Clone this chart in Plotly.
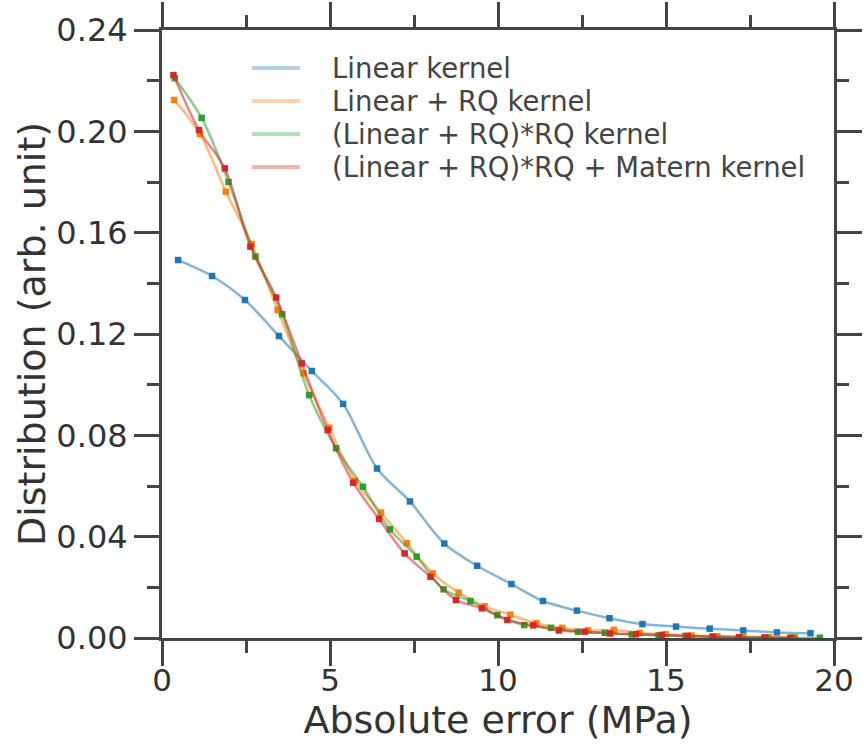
import plotly.graph_objects as go

# Histogram bin centres (MPa) and normalised counts for each kernel
x_linear = [0.48, 1.49, 2.47, 3.48, 4.46, 5.39, 6.40, 7.38, 8.40, 9.38,
            10.40, 11.34, 12.35, 13.32, 14.30, 15.30, 16.30, 17.30, 18.30, 19.30]
y_linear = [0.1492, 0.1429, 0.1334, 0.1192, 0.1054, 0.0924, 0.0669, 0.0539, 0.0373, 0.0285,
            0.0213, 0.0146, 0.0108, 0.0078, 0.0055, 0.0045, 0.0037, 0.0030, 0.0022, 0.0019]

x_lin_rq = [0.36, 1.13, 1.90, 2.67, 3.44, 4.21, 4.98, 5.75, 6.52, 7.29,
            8.06, 8.83, 9.60, 10.37, 11.14, 11.91, 12.68, 13.45, 14.22, 14.99,
            15.76, 16.53, 17.30, 18.07, 18.84]
y_lin_rq = [0.2124, 0.1990, 0.1762, 0.1555, 0.1295, 0.1045, 0.0830, 0.0620, 0.0495, 0.0374,
            0.0255, 0.0179, 0.0125, 0.0092, 0.0058, 0.0040, 0.0030, 0.0032, 0.0020, 0.0015,
            0.0010, 0.0007, 0.0005, 0.0003, 0.0002]

x_lin_rq_rq = [0.38, 1.18, 1.98, 2.78, 3.58, 4.38, 5.18, 5.98, 6.78, 7.58,
               8.38, 9.18, 9.98, 10.78, 11.58, 12.38, 13.18, 13.98, 14.78, 15.58,
               16.38, 17.18, 17.98, 18.78, 19.58]
y_lin_rq_rq = [0.2210, 0.2053, 0.1800, 0.1506, 0.1278, 0.0959, 0.0749, 0.0597, 0.0429, 0.0321,
               0.0192, 0.0146, 0.0090, 0.0051, 0.0040, 0.0025, 0.0020, 0.0014, 0.0010, 0.0008,
               0.0005, 0.0003, 0.0002, 0.0001, 0.0001]

x_matern = [0.34, 1.10, 1.87, 2.63, 3.40, 4.16, 4.93, 5.69, 6.46, 7.22,
            7.99, 8.75, 9.52, 10.28, 11.05, 11.81, 12.58, 13.34, 14.11, 14.87,
            15.64, 16.40, 17.17, 17.93, 18.70]
y_matern = [0.2222, 0.2005, 0.1854, 0.1545, 0.1344, 0.1084, 0.0821, 0.0613, 0.0470, 0.0334,
            0.0242, 0.0150, 0.0117, 0.0071, 0.0050, 0.0030, 0.0025, 0.0018, 0.0015, 0.0012,
            0.0008, 0.0005, 0.0003, 0.0002, 0.0001]

series = [
    ("Linear kernel", x_linear, y_linear, (31, 119, 180)),
    ("Linear + RQ kernel", x_lin_rq, y_lin_rq, (255, 127, 14)),
    ("(Linear + RQ)*RQ kernel", x_lin_rq_rq, y_lin_rq_rq, (44, 160, 44)),
    ("(Linear + RQ)*RQ + Matern kernel", x_matern, y_matern, (214, 39, 40)),
]

W, H = 864, 744
M_L, M_R, M_T, M_B = 162, 30, 30, 106

fig = go.Figure()
for name, xs, ys, (r, g, b) in series:
    fig.add_trace(go.Scatter(
        x=xs, y=ys, mode="lines", name=name, showlegend=False,
        line=dict(color=f"rgba({r},{g},{b},0.55)", width=2.5, shape="spline", smoothing=0.9),
    ))
    fig.add_trace(go.Scatter(
        x=xs, y=ys, mode="markers", showlegend=False, hoverinfo="skip",
        marker=dict(color=f"rgb({r},{g},{b})", size=6.5, symbol="square"),
    ))

# Legend drawn as line samples + labels in paper coordinates
plot_w = W - M_L - M_R
plot_h = H - M_T - M_B


def px_x(p):
    return (p - M_L) / plot_w


def px_y(p):
    return 1 - (p - M_T) / plot_h


legend_rows = [68, 101, 134, 167]
for (name, _, _, (r, g, b)), row in zip(series, legend_rows):
    fig.add_shape(type="line", xref="paper", yref="paper",
                  x0=px_x(252), x1=px_x(300), y0=px_y(row), y1=px_y(row),
                  line=dict(color=f"rgba({r},{g},{b},0.35)", width=4))
    fig.add_annotation(xref="paper", yref="paper", x=px_x(330), y=px_y(row),
                       xanchor="left", yanchor="middle", showarrow=False,
                       text=name, font=dict(size=27.5, family="DejaVu Sans", color="#444444"))

axis_col = "#444444"
font_fam = "DejaVu Sans"

fig.update_layout(
    width=W, height=H,
    margin=dict(l=M_L, r=M_R, t=M_T, b=M_B),
    paper_bgcolor="white", plot_bgcolor="white",
    font=dict(family=font_fam, color="#333333"),
    showlegend=False,
)

fig.update_xaxes(
    range=[0, 20], tickvals=[0, 5, 10, 15, 20], automargin=False,
    showgrid=False, zeroline=False,
    showline=True, linecolor=axis_col, linewidth=3, mirror="allticks",
    ticks="outside", ticklen=25, tickwidth=3, tickcolor=axis_col,
    ticklabelstandoff=-12,
    tickfont=dict(size=31, family=font_fam, color="#333333"),
    minor=dict(ticks="outside", ticklen=12, tickwidth=3, tickcolor=axis_col, dtick=2.5, showgrid=False),
    title=dict(text="Absolute error (MPa)", font=dict(size=38, family=font_fam, color="#333333"), standoff=9),
)
fig.update_yaxes(
    range=[0, 0.24], tickvals=[0.0, 0.04, 0.08, 0.12, 0.16, 0.20, 0.24], automargin=False,
    ticktext=["0.00", "0.04", "0.08", "0.12", "0.16", "0.20", "0.24"],
    showgrid=False, zeroline=False,
    showline=True, linecolor=axis_col, linewidth=3, mirror="allticks",
    ticks="outside", ticklen=25, tickwidth=3, tickcolor=axis_col,
    tickfont=dict(size=32, family=font_fam, color="#333333"),
    minor=dict(ticks="outside", ticklen=12, tickwidth=3, tickcolor=axis_col, dtick=0.02, showgrid=False),
    title=dict(text="Distribution (arb. unit)", font=dict(size=38, family=font_fam, color="#333333"), standoff=0),
)

fig.write_html("out.html")
